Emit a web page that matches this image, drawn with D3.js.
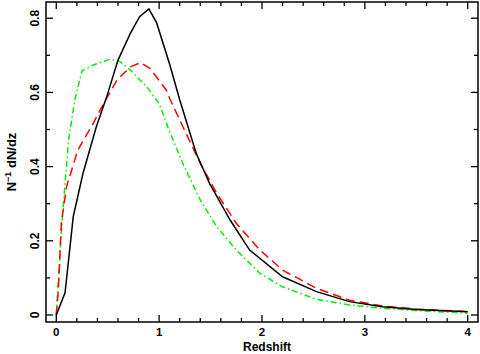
<!DOCTYPE html>
<html>
<head>
<meta charset="utf-8">
<script src="https://cdn.jsdelivr.net/npm/d3@7"></script>
<style>
  body { margin: 0; background: #fff; }
  text { font-family: "Liberation Sans", Arial, sans-serif; font-weight: bold; }
</style>
</head>
<body>
<div id="canvas"></div>
<script>
"use strict"

/* Curves: redshift z and N^-1 dN/dz */
let blackZ = [0, 0.085, 0.165, 0.26, 0.39, 0.49, 0.60, 0.72, 0.81, 0.90, 0.975, 1.10, 1.20, 1.36, 1.49, 1.69, 1.88, 2.20, 2.53, 2.85, 3.17, 3.50, 4.0];
let blackY = [0, 0.060, 0.265, 0.382, 0.508, 0.588, 0.687, 0.759, 0.804, 0.825, 0.788, 0.678, 0.580, 0.436, 0.355, 0.256, 0.175, 0.103, 0.063, 0.036, 0.022, 0.015, 0.009];

let redZ = [0, 0.02, 0.05, 0.10, 0.21, 0.36, 0.46, 0.59, 0.72, 0.82, 0.91, 1.07, 1.10, 1.23, 1.40, 1.56, 1.75, 1.98, 2.20, 2.53, 2.85, 3.17, 3.50, 4.0];
let redY = [0, 0.067, 0.25, 0.346, 0.445, 0.517, 0.570, 0.633, 0.669, 0.680, 0.665, 0.606, 0.585, 0.508, 0.409, 0.328, 0.247, 0.175, 0.121, 0.072, 0.040, 0.024, 0.016, 0.009];

let greenZ = [0, 0.05, 0.075, 0.12, 0.18, 0.25, 0.36, 0.52, 0.62, 0.72, 0.88, 1.0, 1.10, 1.23, 1.40, 1.56, 1.75, 1.98, 2.20, 2.53, 2.85, 3.17, 3.50, 4.0];
let greenY = [0, 0.229, 0.319, 0.472, 0.580, 0.658, 0.674, 0.689, 0.683, 0.660, 0.615, 0.570, 0.495, 0.409, 0.310, 0.238, 0.175, 0.112, 0.076, 0.042, 0.027, 0.018, 0.012, 0.005];

let xTicks = [0, 1, 2, 3, 4];
let yTicks = [0, 0.2, 0.4, 0.6, 0.8];
let yTickLabels = ["0", "0.2", "0.4", "0.6", "0.8"];

/* Drawing configuration */
let svgWidth = 480;
let svgHeight = 354;
let plotLeft = 46, plotRight = 478, plotTop = 2, plotBottom = 322;

let svg = d3.select("#canvas")
    .append("svg")
    .attr("width", svgWidth)
    .attr("height", svgHeight);

let xScale = d3.scaleLinear()
    .domain([-0.1, 4.1])
    .range([plotLeft, plotRight]);

let yScale = d3.scaleLinear()
    .domain([-0.0189, 0.8437])
    .range([plotBottom, plotTop]);

/* Ticks inside the frame on all four sides */
let majorLen = 7, minorLen = 4;
let xMinor = d3.range(0, 4.01, 0.2);
let yMinor = d3.range(0, 0.801, 0.1);

function isMajor(v, step) {
    return Math.abs(v / step - Math.round(v / step)) < 1e-6;
}

let tickG = svg.append("g").attr("stroke", "black").attr("stroke-width", 1.3);

xMinor.forEach(function (v) {
    let len = isMajor(v, 1) ? majorLen : minorLen;
    let x = xScale(v);
    tickG.append("line").attr("x1", x).attr("x2", x).attr("y1", plotBottom).attr("y2", plotBottom - len);
    tickG.append("line").attr("x1", x).attr("x2", x).attr("y1", plotTop).attr("y2", plotTop + len);
});

yMinor.forEach(function (v) {
    let len = isMajor(v, 0.2) ? majorLen : minorLen;
    let y = yScale(v);
    tickG.append("line").attr("x1", plotLeft).attr("x2", plotLeft + len).attr("y1", y).attr("y2", y);
    tickG.append("line").attr("x1", plotRight).attr("x2", plotRight - len).attr("y1", y).attr("y2", y);
});

/* Curves */
let line = d3.line()
    .x(function (d) { return xScale(d[0]); })
    .y(function (d) { return yScale(d[1]); });

function drawCurve(zs, ys, color, dash) {
    svg.append("path")
        .datum(zs.map(function (z, i) { return [z, ys[i]]; }))
        .attr("fill", "none")
        .attr("stroke", color)
        .attr("stroke-width", 1.5)
        .attr("stroke-dasharray", dash)
        .attr("d", line);
}

drawCurve(greenZ, greenY, "#00ee00", "6,3,1.5,3");
drawCurve(redZ, redY, "#ff0000", "9,5");
drawCurve(blackZ, blackY, "black", null);

/* Frame */
svg.append("rect")
    .attr("x", plotLeft)
    .attr("y", plotTop)
    .attr("width", plotRight - plotLeft)
    .attr("height", plotBottom - plotTop)
    .attr("fill", "none")
    .attr("stroke", "black")
    .attr("stroke-width", 1.5);

/* Tick labels */
xTicks.forEach(function (v) {
    svg.append("text")
        .attr("x", xScale(v))
        .attr("y", 336)
        .attr("text-anchor", "middle")
        .attr("font-size", 11.5)
        .text(v);
});

yTicks.forEach(function (v, i) {
    svg.append("text")
        .attr("transform", "translate(38.5," + yScale(v) + ") rotate(-90)")
        .attr("text-anchor", "middle")
        .attr("font-size", 12)
        .text(yTickLabels[i]);
});

/* Axis labels */
svg.append("text")
    .attr("x", (plotLeft + plotRight) / 2 + 5)
    .attr("y", 351)
    .attr("text-anchor", "middle")
    .attr("font-size", 12)
    .text("Redshift");

let yLabel = svg.append("text")
    .attr("transform", "translate(15.5," + ((plotTop + plotBottom) / 2) + ") rotate(-90)")
    .attr("text-anchor", "middle")
    .attr("font-size", 13);
yLabel.append("tspan").text("N");
yLabel.append("tspan").attr("dy", -5).attr("font-size", 9).text("\u22121");
yLabel.append("tspan").attr("dy", 5).text(" dN/dz");
</script>
</body>
</html>
